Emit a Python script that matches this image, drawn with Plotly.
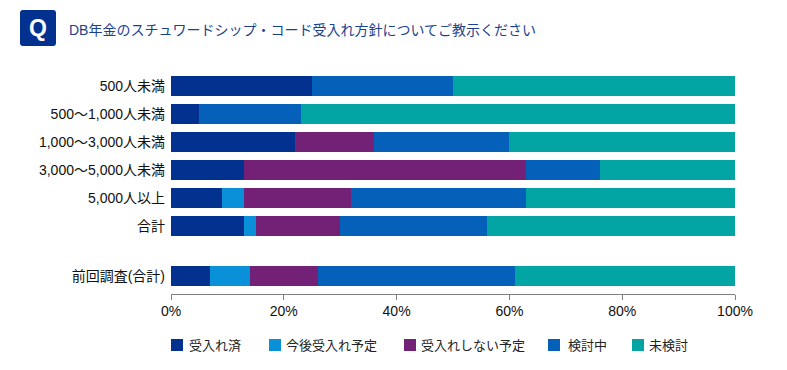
import plotly.graph_objects as go

categories = ["500人未満", "500～1,000人未満", "1,000～3,000人未満", "3,000～5,000人未満", "5,000人以上", "合計", "前回調査(合計)"]
series_names = ["受入れ済", "今後受入れ予定", "受入れしない予定", "検討中", "未検討"]
accepted = [25, 5, 22, 13, 9, 13, 7]
planned = [0, 0, 0, 0, 4, 2, 7]
not_planned = [0, 0, 14, 50, 19, 15, 12]
considering = [25, 18, 24, 13, 31, 26, 35]
not_considered = [50, 77, 40, 24, 37, 44, 39]
series_values = [accepted, planned, not_planned, considering, not_considered]
colors = ["#03318f", "#0a8fd9", "#722176", "#0460b8", "#02a5a3"]
tick_values = [0, 20, 40, 60, 80, 100]
tick_labels = ["0%", "20%", "40%", "60%", "80%", "100%"]
title = "DB年金のスチュワードシップ・コード受入れ方針についてご教示ください"

# The page adds an 8 px body margin, so the figure is 779x362 and margins are offset by 8.
W, H = 779, 362
PLOT_L, PLOT_T, PLOT_W, PLOT_H = 171, 72, 564, 222
ROW = 28
# Rows sit one step apart, with a wider gap before the last (previous survey) row.
row_pos = [0, 1, 2, 3, 4, 5, 5 + 50 / ROW]
FONT = "Liberation Sans, Noto Sans CJK JP"
fig = go.Figure()
for name, vals, col in zip(series_names, series_values, colors):
    fig.add_trace(go.Bar(y=row_pos, x=vals, name=name, orientation="h", width=20 / ROW,
                         marker=dict(color=col, line_width=0), showlegend=False))

def px(x): return (x - PLOT_L) / PLOT_W
def py(y): return 1 - (y - PLOT_T) / PLOT_H

def rounded(x0, y0, x1, y1, r):
    X = lambda v: f"{px(v):.5f}"
    Y = lambda v: f"{py(v):.5f}"
    return (f"M {X(x0 + r)} {Y(y0)} L {X(x1 - r)} {Y(y0)} Q {X(x1)} {Y(y0)} {X(x1)} {Y(y0 + r)} "
            f"L {X(x1)} {Y(y1 - r)} Q {X(x1)} {Y(y1)} {X(x1 - r)} {Y(y1)} "
            f"L {X(x0 + r)} {Y(y1)} Q {X(x0)} {Y(y1)} {X(x0)} {Y(y1 - r)} "
            f"L {X(x0)} {Y(y0 + r)} Q {X(x0)} {Y(y0)} {X(x0 + r)} {Y(y0)} Z")

shapes = [dict(type="path", xref="paper", yref="paper", path=rounded(20, 10, 56, 46, 3),
               fillcolor="#03318f", line_width=0, layer="above")]
annotations = [
    dict(text="<b>Q</b>", x=px(38), y=py(28), xref="paper", yref="paper", xanchor="center", yanchor="middle",
         showarrow=False, font=dict(family="Liberation Sans", size=23, color="white")),
    dict(text=title, x=px(67), y=py(30), xref="paper", yref="paper", xanchor="left", yanchor="middle",
         showarrow=False, font=dict(family=FONT, size=14, color="#1c3f8e")),
]
legend_x = [171, 269, 404, 548, 632]
legend_text_x = [187, 284, 419, 566, 647]
for lx, tx, name, col in zip(legend_x, legend_text_x, series_names, colors):
    shapes.append(dict(type="rect", xref="paper", yref="paper", x0=px(lx), x1=px(lx + 12), y0=py(351), y1=py(339),
                       fillcolor=col, line_width=0))
    annotations.append(dict(text=name, x=px(tx), y=py(345), xref="paper", yref="paper", xanchor="left",
                            yanchor="middle", showarrow=False, font=dict(family=FONT, size=13, color="#222222")))

fig.update_layout(
    width=W, height=H, autosize=False, barmode="stack",
    margin=dict(l=PLOT_L - 8, r=W - (PLOT_L - 8) - PLOT_W, t=PLOT_T - 8, b=H - (PLOT_T - 8) - PLOT_H),
    plot_bgcolor="white", paper_bgcolor="white",
    font=dict(family=FONT, size=14, color="#111111"),
    shapes=shapes, annotations=annotations,
    xaxis=dict(range=[0, 100], tickvals=tick_values, ticktext=tick_labels, ticks="outside", ticklen=5,
               tickcolor="#808080", tickwidth=1, showgrid=False, zeroline=False, showline=True,
               linecolor="#808080", linewidth=1, ticklabelstandoff=-1,
               tickfont=dict(size=14, family=FONT, color="#111111")),
    yaxis=dict(tickmode="array", tickvals=row_pos, ticktext=categories, range=[7.43, -0.5], showgrid=False,
               zeroline=False, showline=False, ticks="", ticklabelstandoff=5,
               tickfont=dict(size=14, family=FONT, color="#111111")),
)
fig.write_html("out.html")
